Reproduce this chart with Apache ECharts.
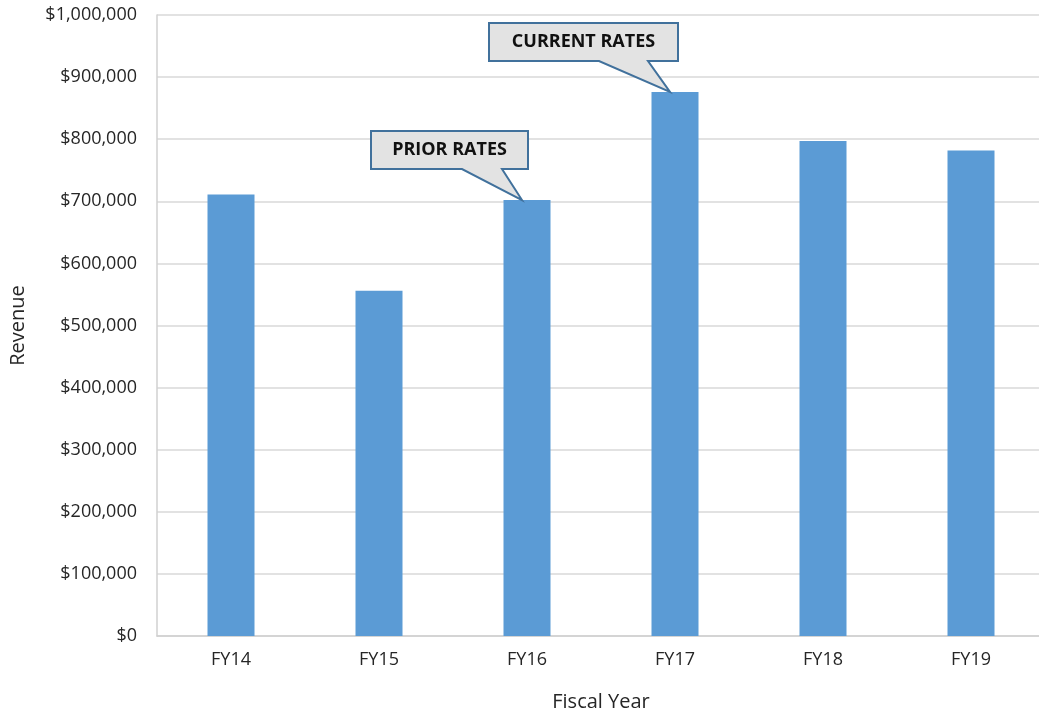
<!DOCTYPE html>
<html>
<head>
<meta charset="utf-8">
<script src="https://cdn.jsdelivr.net/npm/echarts@6/dist/echarts.min.js"></script>
<style>
  html, body { margin: 0; padding: 0; background: #fff; }
  #main { width: 1039px; height: 715px; }
</style>
</head>
<body>
<div id="main"></div>
<script>
// chart data
var years = ['FY14', 'FY15', 'FY16', 'FY17', 'FY18', 'FY19'];
var revenue = [711000, 556000, 702000, 876000, 797000, 782000];
var yTicks = [0, 100000, 200000, 300000, 400000, 500000, 600000, 700000, 800000, 900000, 1000000];
// callouts: which bar they point to
var callouts = [
  { text: 'PRIOR RATES', year: 'FY16', boxLeft: 151, boxRight: 6, wedge: [60, 20] },
  { text: 'CURRENT RATES', year: 'FY17', boxLeft: 181, boxRight: 8, wedge: [71, 22] }
];

var font = 'Open Sans, Noto Sans, sans-serif';
var txt = '#262626';
var myChart = echarts.init(document.getElementById('main'));

function money(v) {
  return '$' + v.toLocaleString('en-US');
}

var option = {
  animation: false,
  grid: { left: 157, top: 15, width: 888, height: 621, containLabel: false, outerBoundsMode: 'none' },
  xAxis: {
    type: 'category',
    data: years,
    name: 'Fiscal Year',
    nameLocation: 'middle',
    nameGap: 56,
    nameTextStyle: { fontFamily: font, fontSize: 20, color: txt },
    axisTick: { show: false },
    axisLine: { lineStyle: { color: '#d0d0d0', width: 1.5 } },
    axisLabel: { fontFamily: font, fontSize: 18, color: txt, margin: 15 }
  },
  yAxis: {
    type: 'value',
    min: yTicks[0],
    max: yTicks[yTicks.length - 1],
    interval: yTicks[1] - yTicks[0],
    name: 'Revenue',
    nameLocation: 'middle',
    nameGap: 129,
    nameTextStyle: { fontFamily: font, fontSize: 20, color: txt },
    axisLine: { show: true, lineStyle: { color: '#d0d0d0', width: 1.5 } },
    axisTick: { show: false },
    axisLabel: { fontFamily: font, fontSize: 18, color: txt, margin: 20, formatter: money },
    splitLine: { lineStyle: { color: '#d9d9d9', width: 1.5 } }
  },
  series: [{
    name: 'Revenue',
    type: 'bar',
    data: revenue,
    barWidth: 47,
    itemStyle: { color: '#5b9bd5' }
  }]
};
myChart.setOption(option);

// draw the callout boxes pointing to the bar tops
var graphics = [];
callouts.forEach(function (c) {
  var idx = years.indexOf(c.year);
  var tip = myChart.convertToPixel({ gridIndex: 0 }, [c.year, revenue[idx]]);
  var tx = tip[0] - 5, ty = tip[1];
  var l = tx - c.boxLeft, r = tx + c.boxRight, t = ty - 69, b = ty - 31;
  graphics.push({
    type: 'polygon',
    shape: {
      points: [[l, t], [r, t], [r, b], [tx - c.wedge[1], b], [tx, ty], [tx - c.wedge[0], b], [l, b]]
    },
    style: { fill: '#e3e3e3', stroke: '#41719c', lineWidth: 2 },
    z: 10
  });
  graphics.push({
    type: 'text',
    x: (l + r) / 2,
    y: (t + b) / 2,
    style: {
      text: c.text,
      fontFamily: font,
      fontSize: 18,
      fontWeight: 'bold',
      fill: '#111',
      align: 'center',
      verticalAlign: 'middle'
    },
    z: 11
  });
});
myChart.setOption({ graphic: graphics });
</script>
</body>
</html>
